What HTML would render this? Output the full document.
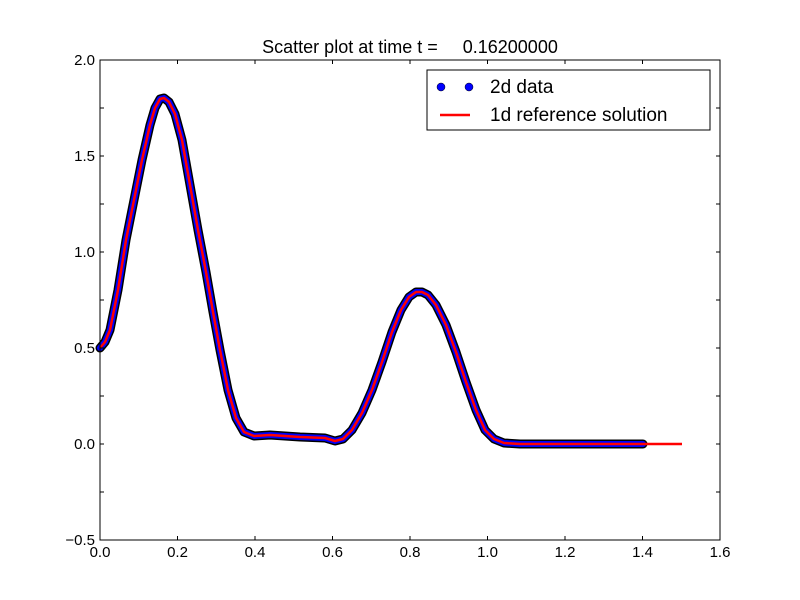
<!DOCTYPE html>
<html><head><meta charset="utf-8"><style>body{margin:0;background:#fff}svg{display:block}</style></head><body>
<svg width="800" height="600" xmlns="http://www.w3.org/2000/svg" font-family="Liberation Sans, sans-serif">
<rect width="800" height="600" fill="#fff"/>
<text x="410" y="53" font-size="18" text-anchor="middle">Scatter plot at time t =&#160;&#160;&#160;&#160; 0.16200000</text>
<defs>
<path id="c" d="M100,348 L105,342 L110,330 L118,290 L126,240 L134,200 L142,160 L150,125 L155,108 L160,99 L164,98 L169,102 L175,114 L182,140 L190,185 L198,230 L206,272 L213,312 L220,350 L228,390 L236,418 L244,432 L254,436 L270,435 L300,437 L325,438 L335,441 L343,439 L352,430 L362,413 L372,390 L382,362 L392,332 L401,310 L409,297 L416,292 L422,292 L428,295 L436,305 L446,325 L456,352 L466,382 L476,410 L485,430 L494,439 L504,443 L520,444 L643,444"/>
</defs>
<use href="#c" fill="none" stroke="#000" stroke-width="9" stroke-linejoin="round" stroke-linecap="round"/>
<use href="#c" fill="none" stroke="#0000ff" stroke-width="6" stroke-linejoin="round" stroke-linecap="round"/>
<path d="M100,348 L105,342 L110,330 L118,290 L126,240 L134,200 L142,160 L150,125 L155,108 L160,99 L164,98 L169,102 L175,114 L182,140 L190,185 L198,230 L206,272 L213,312 L220,350 L228,390 L236,418 L244,432 L254,436 L270,435 L300,437 L325,438 L335,441 L343,439 L352,430 L362,413 L372,390 L382,362 L392,332 L401,310 L409,297 L416,292 L422,292 L428,295 L436,305 L446,325 L456,352 L466,382 L476,410 L485,430 L494,439 L504,443 L520,444 L682,444" fill="none" stroke="#ff0000" stroke-width="2.5" stroke-linejoin="round"/>
<rect x="100" y="60" width="620" height="480" fill="none" stroke="#000" stroke-width="1"/>
<g stroke="#000" stroke-width="1">
<path d="M177.5,540v-4M255,540v-4M332.5,540v-4M410,540v-4M487.5,540v-4M565,540v-4M642.5,540v-4M177.5,60v4M255,60v4M332.5,60v4M410,60v4M487.5,60v4M565,60v4M642.5,60v4"/>
<path d="M100,492h4M100,444h4M100,396h4M100,348h4M100,300h4M100,252h4M100,204h4M100,156h4M100,108h4M720,492h-4M720,444h-4M720,396h-4M720,348h-4M720,300h-4M720,252h-4M720,204h-4M720,156h-4M720,108h-4"/>
</g>
<g font-size="15" text-anchor="middle">
<text x="100" y="557">0.0</text><text x="177.5" y="557">0.2</text><text x="255" y="557">0.4</text><text x="332.5" y="557">0.6</text><text x="410" y="557">0.8</text><text x="487.5" y="557">1.0</text><text x="565" y="557">1.2</text><text x="642.5" y="557">1.4</text><text x="720" y="557">1.6</text>
</g>
<g font-size="15" text-anchor="end">
<text x="95" y="545">−0.5</text><text x="95" y="449">0.0</text><text x="95" y="353">0.5</text><text x="95" y="257">1.0</text><text x="95" y="161">1.5</text><text x="95" y="65">2.0</text>
</g>
<rect x="427" y="70" width="283" height="60" fill="#fff" stroke="#000"/>
<circle cx="441" cy="87" r="4" fill="#0000ff" stroke="#000" stroke-width="0.5"/>
<circle cx="469" cy="87" r="4" fill="#0000ff" stroke="#000" stroke-width="0.5"/>
<text x="490" y="93" font-size="19">2d data</text>
<line x1="440" y1="115" x2="470" y2="115" stroke="#ff0000" stroke-width="2.5"/>
<text x="490" y="121" font-size="19">1d reference solution</text>
</svg>
</body></html>
